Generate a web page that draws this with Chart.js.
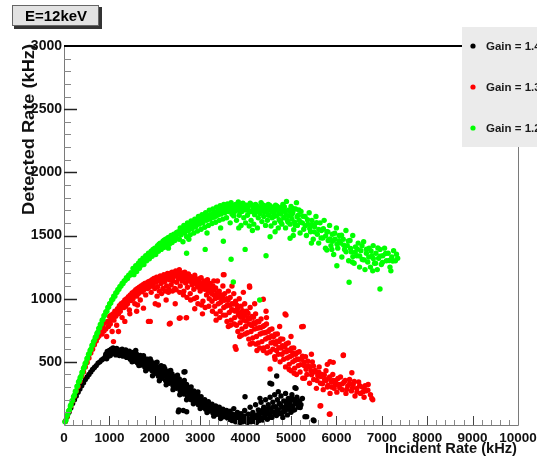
<!DOCTYPE html>
<html>
<head>
<meta charset="utf-8">
<script src="https://cdn.jsdelivr.net/npm/chart.js@4.4.0/dist/chart.umd.min.js"></script>
<style>
  html, body { margin: 0; padding: 0; background: #fff; overflow: hidden; }
  canvas { display: block; }
</style>
</head>
<body>
<canvas id="c" width="537" height="466"></canvas>
<script>
// ---- text ----
const panelTitle = 'E=12keV';
const xTitle = 'Incident Rate (kHz)';
const yTitle = 'Detected Rate (kHz)';
const seriesLabels = ['Gain = 1.4', 'Gain = 1.3', 'Gain = 1.2'];
const seriesColors = ['#000000', '#ff0000', '#00ff00'];

// ---- axes ----
const xTickLabels = [0, 1000, 2000, 3000, 4000, 5000, 6000, 7000, 8000, 9000, 10000];
const yTickLabels = [500, 1000, 1500, 2000, 2500, 3000];

// ---- measurements: [incident rate, detected rate] in kHz ----
const gain14 = [
  [30,28],[70,65],[110,100],[150,135],[190,170],[230,200],[270,230],[310,260],[350,285],[390,310],
  [430,335],[470,360],[510,380],[550,400],[590,420],[630,440],[670,455],[710,470],[750,490],[790,500],
  [830,515],[870,525],[910,540],
  [920,560],[940,525],[960,575],[980,545],[1000,590],[1020,550],[1040,600],[1060,565],[1080,610],[1100,570],
  [1120,600],[1140,555],[1160,605],[1180,575],[1200,595],[1220,550],[1240,590],[1260,565],[1280,600],[1300,545],
  [1320,585],[1340,560],[1360,595],[1380,535],[1400,575],[1420,550],[1440,585],[1460,520],[1480,565],[1500,540],
  [1520,575],[1540,505],[1560,555],[1580,525],[1600,560],[1620,490],[1640,540],[1660,510],[1680,550],[1700,475],
  [1720,525],[1740,495],[1760,535],[1780,460],[1800,510],[1820,480],[1840,520],[1860,445],[1880,495],[1900,465],
  [1920,505],[1940,430],[1960,480],[1980,450],[2000,490],
  [2020,410],[2040,465],[2060,430],[2080,385],[2100,450],[2120,405],[2140,470],[2160,370],[2180,430],[2200,395],
  [2220,445],[2240,350],[2260,410],[2280,375],[2300,425],[2320,330],[2340,390],[2360,350],[2380,405],[2400,310],
  [2420,370],[2440,330],[2460,385],[2480,290],[2500,345],[2520,310],[2540,365],[2560,270],[2580,325],[2600,290],
  [2620,340],[2640,245],[2660,300],[2680,265],[2700,320],[2720,225],[2740,280],[2760,240],[2780,295],[2800,200],
  [2820,255],[2840,215],[2860,270],[2880,180],[2900,235],[2920,195],[2940,245],[2960,160],[2980,210],[3000,175],
  [3020,225],[3040,140],[3060,190],[3080,155],[3100,200],[3120,125],[3140,170],[3160,135],[3180,185],[3200,110],
  [3220,150],[3240,120],[3260,165],[3280,95],[3300,135],[3320,105],[3340,150],[3360,85],[3380,120],[3400,95],
  [3420,140],[3440,75],[3460,110],[3480,85],[3500,125],[3520,65],[3540,100],[3560,75],[3580,115],[3600,55],
  [3620,90],[3640,45],[3660,110],[3680,60],[3700,35],[3720,85],[3740,130],[3760,50],[3780,25],[3800,75],
  [3820,100],[3840,40],[3860,60],[3880,20],[3900,90],[3920,45],[3940,25],[3960,70],[3980,115],[4000,35],
  [4020,55],[4040,20],[4060,85],[4080,40],[4100,140],[4120,25],[4140,65],[4160,100],[4180,30],[4200,50],
  [4220,160],[4240,20],[4260,80],[4280,120],[4300,35],[4320,60],[4340,180],[4360,95],[4380,40],[4400,140],
  [4420,70],[4440,200],[4460,110],[4480,45],[4500,160],[4520,85],[4540,220],[4560,130],[4580,60],[4600,180],
  [4620,100],[4640,240],[4660,145],[4680,75],[4700,200],[4720,120],[4740,170],[4760,90],[4780,230],[4800,140],
  [4820,60],[4840,190],[4860,110],[4880,250],[4900,160],[4920,80],[4940,210],[4960,130],[4980,180],[5000,100],
  [5020,240],[5040,150],[5060,200],[5080,120],[5100,170],[5130,220],[5160,140],[5190,190],[5220,160],[5250,210],
  [2665,422],[2643,420],[2518,105],[2530,119],[2628,115],[2702,105],[3987,224],[4317,211],[4537,330],[4575,325],
  [4720,264],[4685,388],[5110,290],[5088,295],[5345,66],[5308,66],[5507,34],[5491,40],
  [953,583],[1013,572],[1053,593],[1093,588],[1133,582],[1173,591],[1213,571],[1253,580],[1293,566],[1333,573],
  [1373,557],[1413,562],[1453,548],[1493,556],[1533,531],[1573,541],[1613,517],[1653,527],[1693,506],[1733,510],
  [1773,491],[1813,495],[1853,473],[1893,478],[1933,458],[1973,462],[2013,442],[2053,449],[2093,418],[2133,428],
  [2173,401],[2213,417],[2253,381],[2293,393],[2333,362],[2373,371],[2413,341],[2453,352],[2493,321],[2533,333],
  [2573,298],[2613,309],[2653,276],[2693,287],[2733,258],[2773,263],[2813,232],[2853,241],[2893,207],[2933,219],
  [2973,186],[3013,196],[3053,163],[3093,172],[3133,144],[3173,152],[3213,127],[3253,136],[3293,113],[3333,121],
  [3373,99],[3413,106],[3453,92],[3493,96],[3533,83],[3573,88],[3613,71],[3653,78],[3693,61],[3733,66],
  [3773,48],[3813,56],[3853,33],[3893,63],[3933,51],[3973,42],[4013,71],[4053,46],[4093,32],[4133,44],
  [4173,77],[4213,31],[4253,52],[4293,88],[4333,47],[4373,118],[4413,55],[4453,92],[4493,129],[4533,62],
  [4573,101],[4613,143],[4653,87],[4693,122],[4733,93],[4773,158],[4813,99],[4853,136],[4893,187],[4933,124],
  [4973,151],[5013,212],[5053,119],[5093,189],[5143,177],[5203,139],
  [1500,500],[1650,470],[1800,430],[1950,390],[2100,350],[2250,318],[2400,280],[2550,240],[2700,200],[2850,168],
  [3000,130],[3150,98],[3300,70],[3450,52],[1580,590],[1750,548],[1900,522],[2050,498],[2200,462],[2350,432],
  [2500,394],[2650,352],[2800,302],[2950,262]
];

const gain13 = [
  [30,30],[70,70],[110,110],[150,150],[190,190],[230,230],[270,270],[310,305],[350,345],[390,385],
  [430,420],[470,460],[510,495],[550,530],[590,570],[630,600],[670,635],[710,665],[740,690],[770,705],[800,740],
  [820,770],[840,720],[860,790],[880,745],[900,810],[920,760],[940,700],[960,820],[980,780],[1000,860],
  [1020,800],[1040,870],[1060,740],[1080,880],[1100,830],[1120,900],[1140,860],[1160,790],[1180,920],[1200,880],
  [1220,945],[1240,900],[1260,960],[1280,850],[1300,970],[1320,930],[1340,990],[1360,940],[1380,1000],[1400,960],
  [1420,1015],[1440,910],[1460,1030],[1480,985],[1500,1045],[1520,1000],[1540,1055],[1560,960],[1580,1070],[1600,1020],
  [1620,1080],[1640,1040],[1660,1090],[1680,990],[1700,1100],[1720,1055],[1740,1110],[1760,1070],[1780,1120],[1800,1030],
  [1820,1125],[1840,1080],[1860,1135],[1880,1090],[1900,1140],[1920,1050],[1940,1150],[1960,1100],[1980,1160],[2000,1080],
  [1090,660],[1200,740],[1340,820],[1750,925],[1860,820],[1900,820],[2010,960],[2080,950],[2320,800],[2340,805],
  [2540,845],[2560,848],[2690,848],[2700,850],[1600,900],
  [2020,1130],[2040,1170],[2060,1095],[2080,1145],[2100,1060],[2120,1180],[2140,1120],[2160,1160],[2180,1080],[2200,1190],
  [2220,1135],[2240,1170],[2260,1100],[2280,1200],[2300,1050],[2320,1150],[2340,1185],[2360,1110],[2380,1210],[2400,1140],
  [2420,1175],[2440,1080],[2460,1220],[2480,1130],[2500,1190],[2520,1160],[2540,1230],[2560,1100],[2580,1200],[2600,1140],
  [2620,1175],[2640,1060],[2660,1210],[2680,1125],[2700,1165],[2720,1090],[2740,1195],[2760,1140],[2780,1040],[2800,1170],
  [2820,1110],[2840,1150],[2860,1075],[2880,1185],[2900,1120],[2920,1010],[2940,1155],[2960,1090],[2980,1130],[3000,1060],
  [3020,1165],[3040,1100],[3060,980],[3080,1140],[3100,1075],[3120,1120],[3140,1030],[3160,1150],[3180,1090],[3200,1000],
  [3220,1120],[3240,1060],[3260,980],[3280,1100],[3300,1030],[3320,940],[3340,1085],[3360,1010],[3380,1140],[3400,960],
  [3420,1060],[3440,900],[3460,1030],[3480,990],[3500,1100],[3520,930],[3540,1040],[3560,870],[3580,1000],[3600,950],
  [3620,1060],[3640,890],[3660,1010],[3680,830],[3700,960],[3720,910],[3740,1040],[3760,850],[3780,980],[3800,790],
  [3820,920],[3840,870],[3860,1000],[3880,810],[3900,940],[3920,760],[3940,880],[3960,830],[3980,960],[4000,780],
  [4020,900],[4040,730],[4060,850],[4080,800],[4100,930],[4120,740],[4140,860],[4160,690],[4180,810],[4200,760],
  [4220,880],[4240,700],[4260,820],[4280,650],[4300,770],[4320,720],[4340,840],[4360,660],[4380,780],[4400,610],
  [4420,730],[4440,680],[4460,800],[4480,620],[4500,740],
  [4520,690],[4540,580],[4560,650],[4580,760],[4600,600],[4620,700],[4640,540],[4660,640],[4680,590],[4700,720],
  [4720,560],[4740,660],[4760,500],[4780,610],[4800,560],[4820,680],[4840,520],[4860,620],[4880,460],[4900,580],
  [4920,530],[4940,650],[4960,480],[4980,590],[5000,430],[5020,550],[5040,500],[5060,610],[5080,450],[5100,560],
  [5120,400],[5140,520],[5160,470],[5180,580],[5200,420],[5230,520],[5260,370],[5290,470],[5320,540],[5350,400],
  [5380,470],[5410,330],[5440,430],[5470,500],[5500,360],[5530,420],[5560,290],[5590,390],[5620,460],[5650,330],
  [5680,400],[5710,280],[5740,360],[5770,430],[5800,300],[5830,370],[5860,250],[5890,340],[5920,400],[5950,290],
  [5980,350],[6010,260],[6050,320],[6090,380],[6130,280],[6170,340],[6210,250],[6250,310],[6290,360],[6330,270],
  [6370,320],[6410,230],[6450,290],[6490,340],[6530,250],[6570,300],[6610,220],[6650,270],[6700,320],[6750,240],
  [6800,200],
  [3510,1190],[3525,1190],[4090,1090],[4085,1100],[4390,995],[4870,879],[4890,870],[5235,778],[5270,780],[4460,850],
  [6150,550],[6155,554],[5930,496],[5860,501],[6340,414],[6780,210],[6630,277],[5640,150],[5845,85],[5655,153],
  [5860,87],[3790,600],[4540,443],[4100,640],[3770,620],[5070,410],
  [1013,825],[1057,848],[1093,862],[1137,885],[1174,896],[1213,917],[1253,929],[1291,944],[1333,958],[1371,972],
  [1413,989],[1452,1004],[1493,1012],[1533,1031],[1572,1043],[1613,1050],[1652,1064],[1693,1069],[1731,1083],[1773,1092],
  [1812,1099],[1853,1108],[1894,1113],[1933,1122],[1973,1131],[2013,1152],[2053,1139],[2093,1161],[2133,1148],[2173,1170],
  [2213,1157],[2253,1184],[2293,1163],[2333,1199],[2373,1172],[2413,1205],[2453,1183],[2493,1211],[2533,1188],[2573,1174],
  [2613,1204],[2653,1162],[2693,1194],[2733,1151],[2773,1178],[2813,1133],[2853,1166],[2893,1141],[2933,1104],[2973,1157],
  [3013,1118],[3053,1081],[3093,1127],[3133,1094],[3173,1061],[3213,1079],[3253,1041],[3293,1068],[3333,1002],[3373,1047],
  [3413,1011],[3453,972],[3493,1023],[3533,988],[3573,941],[3613,987],[3653,947],[3693,912],[3733,958],[3773,901],
  [3813,947],[3853,889],[3893,852],[3933,905],[3973,867],[4013,822],[4053,884],[4093,842],[4133,788],[4173,852],
  [4213,803],[4253,765],[4293,817],[4333,771],[4373,728],[4413,788],[4453,735],[4493,692],[4533,755],[4573,704],
  [4613,657],[4653,719],[4693,664],[4733,611],[4773,682],[4813,627],[4853,579],[4893,641],[4933,592],[4973,541],
  [5013,607],[5053,566],[5093,512],[5133,573],[5173,521],[5213,478],[5253,544],[5293,497],[5333,441],[5373,506],
  [5413,462],[5453,397],[5493,468],[5533,431],[5573,352],[5613,418],[5653,384],[5693,327],[5733,397],[5773,352],
  [5813,314],[5853,381],[5893,301],[5933,352],[5973,317],[6033,368],[6073,294],[6133,327],[6193,352],[6233,283],
  [6293,329],[6353,293],[6393,345],[6453,262],[6513,311],[6583,262],[6633,312],[6693,276],
  [2050,1020],[2150,1040],[2230,1060],[2310,1075],[2390,1060],[2470,1070],[2550,1050],[2630,1030],[2710,1010],[2790,990],
  [2870,1000],[2950,960],[3030,950],[3110,930],[3190,940],[3270,900],[3350,880],[3430,850],[3510,870],[3590,820],
  [3670,790],[3750,800],[3830,740],[3910,710],[3990,720],[4070,680],[4150,650],[4230,640],[4310,610],[4390,590],
  [4470,570],[1450,880],[1620,950],[2250,990],[2450,960],[2880,920],[3050,880],[3350,830],[3620,780],[3870,700],
  [4250,590],[4650,520],[4960,440],[5300,370],[3300,1140],[3700,1100],[3950,1050],[4200,960],[4450,900],[4750,780],
  [5000,700],[5450,560],[5800,480]
];

const gain12 = [
  [20,25],[45,40],[60,70],[85,85],[100,110],[120,120],[140,150],[155,160],[175,190],[190,195],
  [210,225],[230,235],[250,265],[265,270],[285,305],[300,310],[320,340],[340,350],[355,375],[375,385],
  [395,415],[410,420],[430,450],[450,460],[465,485],[485,495],[505,525],[520,530],[540,560],[560,565],
  [575,590],[595,600],[615,630],[635,635],[650,660],[670,670],[690,695],[710,700],[725,725],[745,735],
  [765,765],[785,770],[800,795],[820,800],[840,830],[860,835],[880,865],[900,870],[920,895],[945,900],
  [965,930],[985,935],[1005,960],[1030,965],[1050,990],[1075,995],[1095,1020],[1120,1020],[1140,1045],[1165,1050],
  [1185,1070],[1210,1075],[1230,1095],[1255,1100],[1280,1120],[1300,1120],[1325,1140],[1350,1145],[1375,1165],[1400,1160],
  [1425,1185],[1450,1185],[1475,1205],[1500,1200],
  [1520,1240],[1540,1190],[1560,1225],[1580,1260],[1600,1215],[1620,1250],[1640,1280],[1660,1240],[1680,1300],[1700,1265],
  [1720,1290],[1740,1320],[1760,1270],[1780,1305],[1800,1340],[1820,1300],[1840,1330],[1860,1360],[1880,1315],[1900,1350],
  [1920,1375],[1940,1335],[1960,1390],[1980,1360],[2000,1400],[2020,1350],[2040,1385],[2060,1420],[2080,1375],[2100,1410],
  [2120,1440],[2140,1390],[2160,1425],[2180,1455],[2200,1405],[2220,1440],[2240,1470],[2260,1420],[2280,1455],[2300,1485],
  [2320,1430],[2340,1465],[2360,1500],[2380,1445],[2400,1480],[2420,1510],[2440,1460],[2460,1495],[2480,1525],[2500,1475],
  [2520,1530],[2540,1470],[2560,1560],[2580,1505],[2600,1540],[2620,1450],[2640,1580],[2660,1520],[2680,1555],[2700,1490],
  [2720,1600],[2740,1540],[2760,1570],[2780,1505],[2800,1615],[2820,1555],[2840,1590],[2860,1520],[2880,1630],[2900,1570],
  [2920,1605],[2940,1535],[2960,1650],[2980,1590],[3000,1620],[3020,1550],[3040,1665],[3060,1600],[3080,1640],[3100,1565],
  [3120,1680],[3140,1620],[3160,1650],[3180,1580],[3200,1700],[3220,1630],[3240,1665],[3260,1595],[3280,1710],[3300,1645],
  [3320,1680],[3340,1605],[3360,1725],[3380,1660],[3400,1690],[3420,1620],[3440,1735],[3460,1670],[3480,1705],[3500,1630],
  [3520,1745],[3540,1680],[3560,1715],[3580,1640],[3600,1750],[3620,1690],[3640,1720],[3660,1600],[3680,1760],[3700,1700],
  [3720,1735],[3740,1655],[3760,1690],[3780,1745],[3800,1620],[3820,1710],[3840,1765],[3860,1660],[3880,1725],[3900,1580],
  [3920,1690],[3940,1755],[3960,1640],[3980,1710],[4000,1600],
  [4020,1740],[4040,1660],[4060,1700],[4080,1575],[4100,1755],[4120,1620],[4140,1690],[4160,1730],[4180,1590],[4200,1665],
  [4220,1745],[4240,1700],[4260,1560],[4280,1640],[4300,1720],[4320,1675],[4340,1760],[4360,1610],[4380,1700],[4400,1650],
  [4420,1735],[4440,1580],[4460,1690],[4480,1620],[4500,1745],[4520,1660],[4540,1710],[4560,1575],[4580,1640],[4600,1725],
  [4620,1680],[4640,1600],[4660,1740],[4680,1655],[4700,1700],[4720,1560],[4740,1625],[4760,1720],[4780,1670],[4800,1590],
  [4820,1745],[4840,1640],[4860,1690],[4880,1560],[4900,1770],[4920,1620],[4940,1700],[4960,1655],[4980,1590],[5000,1730],
  [5020,1630],[5040,1680],[5060,1545],[5080,1605],[5100,1710],[5120,1760],[5140,1580],[5160,1660],[5180,1620],[5200,1520],
  [5220,1690],[5250,1600],[5280,1550],[5310,1650],[5340,1500],[5370,1590],[5400,1680],[5430,1530],[5460,1620],[5490,1470],
  [5520,1570],[5550,1650],[5580,1510],[5610,1440],[5640,1600],[5670,1540],[5700,1480],[5730,1620],[5760,1400],[5790,1530],
  [5820,1460],[5850,1580],[5880,1420],[5910,1510],[5940,1350],[5970,1470],[6000,1560],[6030,1400],[6060,1500],[6090,1440],
  [6120,1330],[6150,1470],[6180,1390],[6210,1540],[6240,1420],[6270,1300],[6300,1460],[6330,1370],[6360,1500],[6390,1280],
  [6420,1410],[6450,1340],[6480,1440],[6510,1250],[6540,1380],[6570,1310],[6600,1450],[6630,1230],[6660,1360],[6690,1290],
  [6720,1400],[6750,1250],[6780,1340],[6810,1420],[6840,1280],[6870,1360],[6900,1230],[6930,1320],[6960,1390],[6990,1270],
  [7020,1340],[7060,1400],[7100,1300],[7140,1360],[7180,1250],[7220,1330],[7260,1380],[7300,1300],[7350,1320],
  [2700,1360],[3110,1390],[3510,1455],[3680,1312],[3990,1390],[4450,1340],[4540,1490],[4980,1478],[3730,1132],[4310,990],
  [5790,1385],[6010,1260],[6280,1130],[6960,1077],
  [2013,1382],[2057,1397],[2094,1432],[2133,1418],[2171,1442],[2207,1463],[2246,1446],[2283,1478],[2317,1461],[2352,1489],
  [2391,1472],[2433,1497],[2468,1508],[2506,1522],[2547,1512],[2583,1541],[2611,1528],[2652,1553],[2689,1537],[2726,1568],
  [2763,1553],[2797,1579],[2834,1566],[2871,1600],[2913,1583],[2947,1612],[2986,1607],[3027,1628],[3066,1619],[3103,1646],
  [3139,1655],[3177,1631],[3213,1662],[3251,1642],[3292,1679],[3327,1651],[3366,1688],[3403,1667],[3441,1703],[3476,1686],
  [3512,1712],[3553,1698],[3587,1721],[3627,1709],[3663,1731],[3702,1668],[3741,1722],[3779,1701],[3817,1738],[3853,1697],
  [3893,1742],[3933,1713],[3972,1741],[4011,1702],[4053,1725],[4093,1688],[4134,1744],[4172,1706],[4213,1681],[4251,1731],
  [4293,1689],[4331,1712],[4372,1743],[4413,1688],[4452,1715],[4493,1662],[4533,1737],[4574,1689],[4613,1648],[4653,1702],
  [4693,1731],[4733,1672],[4773,1609],[4813,1697],[4853,1728],[4893,1660],[4933,1607],[4973,1689],[5013,1664],[5053,1712],
  [5093,1583],[5133,1649],[5173,1702],[5213,1604],[5263,1652],[5313,1578],[5363,1625],[5413,1556],[5463,1587],[5513,1529],
  [5563,1602],[5613,1547],[5663,1481],[5713,1553],[5763,1497],[5813,1529],[5863,1472],[5913,1455],[5963,1518],[6013,1431],
  [6063,1459],[6113,1502],[6163,1423],[6213,1371],[6263,1456],[6313,1398],[6363,1333],[6413,1367],[6463,1392],[6513,1338],
  [6563,1419],[6613,1307],[6663,1392],[6713,1329],[6763,1378],[6813,1318],[6863,1281],[6913,1402],[6963,1337],[7013,1287],
  [7083,1357],[7163,1302],[7243,1298],[7323,1352],
  [2300,1400],[2750,1470],[3150,1520],[3450,1560],[3850,1560],[4150,1540],[4650,1530],[5050,1500],[5450,1440],[5900,1390],
  [6350,1290],[6800,1220],[7200,1220]
];

const seriesData = [gain14, gain13, gain12];

const FONT = '"Liberation Sans", Arial, Helvetica, sans-serif';

// Draws text scaled along its direction so that it spans the given width.
function fitText(ctx, text, x, y, width) {
  const w = ctx.measureText(text).width;
  ctx.save();
  ctx.translate(x, y);
  ctx.scale(width / w, 1);
  ctx.fillText(text, 0, 0);
  ctx.restore();
}

const decorations = {
  id: 'decorations',
  afterDatasetsDraw(chart) {
    const { ctx, chartArea: a, scales: { x, y } } = chart;
    ctx.save();

    // axis lines
    ctx.strokeStyle = '#7a7a7a';
    ctx.lineWidth = 1;
    ctx.beginPath();
    ctx.moveTo(a.left + 0.5, a.top);
    ctx.lineTo(a.left + 0.5, a.bottom + 0.5);
    ctx.lineTo(a.right + 0.5, a.bottom + 0.5);
    ctx.lineTo(a.right + 0.5, a.top);
    ctx.stroke();

    // heavy top frame line
    ctx.strokeStyle = '#000';
    ctx.lineWidth = 2;
    ctx.beginPath();
    ctx.moveTo(a.left, a.top);
    ctx.lineTo(a.right, a.top);
    ctx.stroke();

    // y ticks (inward): major every 500, minor every 100
    for (let v = 100; v < 3000; v += 100) {
      const py = Math.round(y.getPixelForValue(v)) + 0.5;
      const major = v % 500 === 0;
      ctx.strokeStyle = major ? '#222' : '#888';
      ctx.lineWidth = major ? 1.5 : 1;
      ctx.beginPath();
      ctx.moveTo(a.left, py);
      ctx.lineTo(a.left + (major ? 13 : 7), py);
      ctx.stroke();
    }
    // x ticks (upward): major every 1000, minor every 200
    for (let v = 200; v < 10000; v += 200) {
      const px = Math.round(x.getPixelForValue(v)) + 0.5;
      const major = v % 1000 === 0;
      ctx.strokeStyle = major ? '#444' : '#888';
      ctx.lineWidth = 1;
      ctx.beginPath();
      ctx.moveTo(px, a.bottom);
      ctx.lineTo(px, a.bottom - (major ? 9 : 5));
      ctx.stroke();
    }

    // tick labels
    ctx.fillStyle = '#111';
    ctx.font = 'bold 14px ' + FONT;
    ctx.textAlign = 'right';
    ctx.textBaseline = 'middle';
    yTickLabels.forEach(v => ctx.fillText(String(v), a.left - 2, y.getPixelForValue(v)));
    ctx.font = 'bold 13.5px ' + FONT;
    ctx.textAlign = 'center';
    xTickLabels.forEach(v => ctx.fillText(String(v), x.getPixelForValue(v), a.bottom + 13));

    // axis titles
    ctx.font = 'bold 14px ' + FONT;
    ctx.textAlign = 'left';
    ctx.textBaseline = 'middle';
    fitText(ctx, xTitle, a.right - 133, a.bottom + 24, 132);
    ctx.save();
    ctx.translate(30, 215);
    ctx.rotate(-Math.PI / 2);
    ctx.font = 'bold 16px ' + FONT;
    fitText(ctx, yTitle, 0, 0, 171);
    ctx.restore();

    ctx.restore();
  },
  afterDraw(chart) {
    const { ctx } = chart;
    ctx.save();

    // title box
    ctx.fillStyle = '#333';
    ctx.fillRect(14, 7, 88, 22);
    ctx.fillStyle = '#e2e2e2';
    ctx.fillRect(12, 5, 87, 21);
    ctx.strokeStyle = '#666';
    ctx.lineWidth = 1;
    ctx.strokeRect(12.5, 5.5, 86, 20);
    ctx.fillStyle = '#000';
    ctx.font = 'bold 15px ' + FONT;
    ctx.textAlign = 'center';
    ctx.textBaseline = 'middle';
    ctx.fillText(panelTitle, 56, 16.5);

    // legend box (extends past the right edge)
    ctx.fillStyle = '#ebebeb';
    ctx.fillRect(462, 27, 90, 120);
    const rows = [46, 87, 128];
    ctx.font = 'bold 11.5px ' + FONT;
    ctx.textAlign = 'left';
    seriesLabels.forEach((label, i) => {
      ctx.fillStyle = seriesColors[i];
      ctx.beginPath();
      ctx.arc(473, rows[i], 2.6, 0, Math.PI * 2);
      ctx.fill();
      ctx.fillStyle = '#1a1a1a';
      ctx.fillText(label, 486, rows[i] + 0.5);
    });

    ctx.restore();
  }
};

const datasets = seriesData.map((pts, i) => ({
  label: seriesLabels[i],
  data: pts.map(([px, py]) => ({ x: px, y: py })),
  backgroundColor: seriesColors[i],
  borderWidth: 0,
  pointRadius: 2.7,
  pointHoverRadius: 2.7,
  order: 2 - i,
  clip: false
}));

new Chart(document.getElementById('c'), {
  type: 'scatter',
  data: { datasets },
  options: {
    responsive: false,
    animation: false,
    devicePixelRatio: 1,
    layout: { padding: { left: 64, right: 19, top: 46, bottom: 41 } },
    plugins: { legend: { display: false }, tooltip: { enabled: false } },
    events: [],
    scales: {
      x: { type: 'linear', min: 0, max: 10000, display: false },
      y: { type: 'linear', min: 0, max: 3000, display: false }
    }
  },
  plugins: [decorations]
});
</script>
</body>
</html>
